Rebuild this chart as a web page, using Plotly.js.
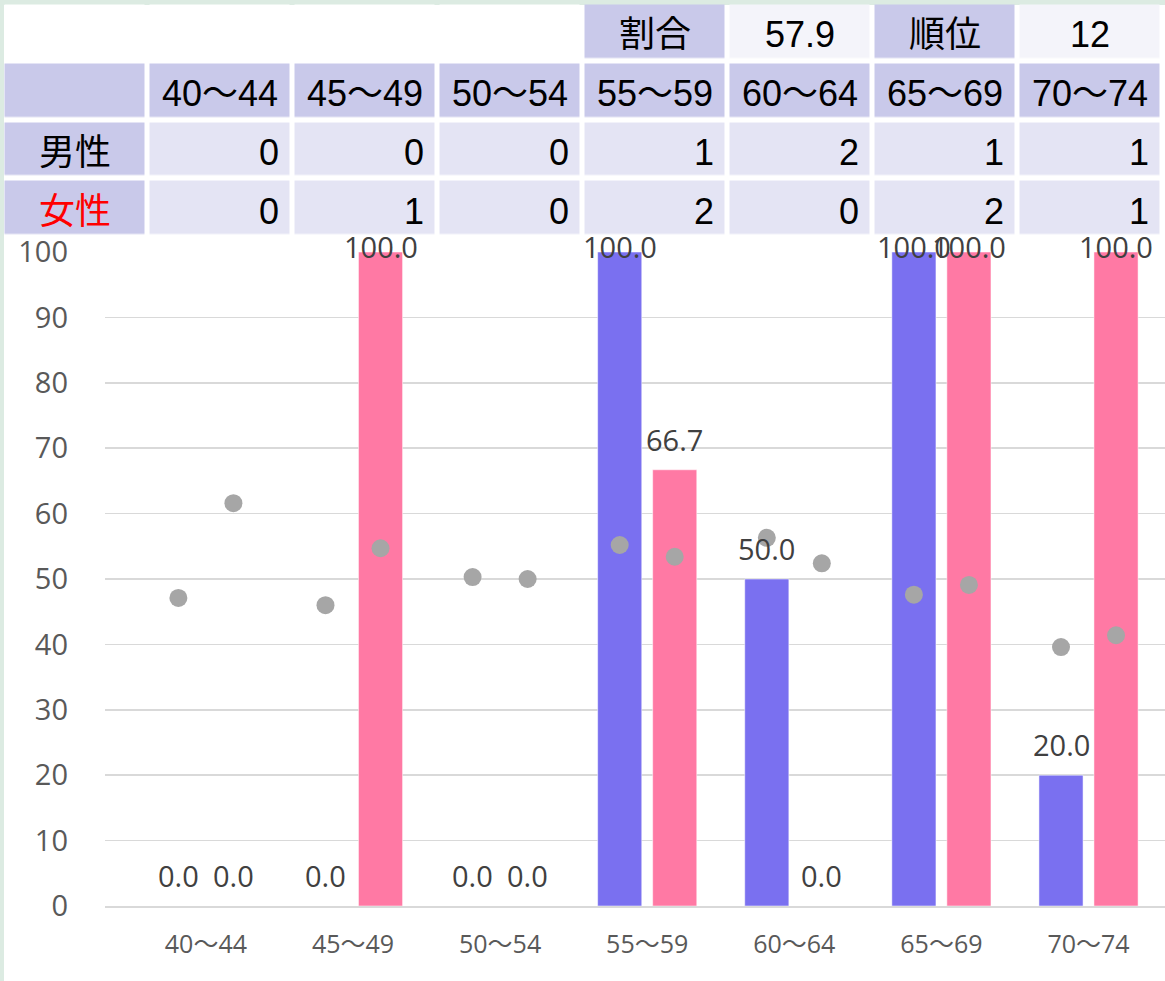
<!DOCTYPE html>
<html><head><meta charset="utf-8">
<script src="https://cdn.plot.ly/plotly-3.0.1.min.js"></script>
<style>html,body{margin:0;padding:0;background:#fff;overflow:hidden}#chart{width:1165px;height:981px;}</style>
</head><body><div id="chart"></div>
<script>
// ---- data ----
const categories = ['40〜44','45〜49','50〜54','55〜59','60〜64','65〜69','70〜74'];
const maleRate   = [0, 0, 0, 100, 50, 100, 20];
const femaleRate = [0, 100, 0, 66.7, 0, 100, 100];
const maleRef    = [47.1, 46.0, 50.3, 55.2, 56.3, 47.6, 39.6];
const femaleRef  = [61.6, 54.7, 50.0, 53.4, 52.4, 49.1, 41.4];
const maleCount   = [0, 0, 0, 1, 2, 1, 1];
const femaleCount = [0, 1, 0, 2, 0, 2, 1];
const rowLabels = ['男性', '女性'];
const summaryLabels = ['割合', '順位'];
const summaryValues = ['57.9', '12'];

// ---- style ----
const W = 1165, H = 981, B = 75, PH = H - B;
const LAV = '#c9c9ea', CELL = '#e4e4f4', LIGHT = '#f4f4fa', GREEN = '#dcebe2';
const MALE = '#7a70f0', FEMALE = '#ff79a4', DOT = '#a6a6a6';
const CHART_FONT = "'Open Sans', 'Noto Sans CJK JP', sans-serif";
const TABLE_FONT = "'Liberation Sans', Arial, 'Noto Sans CJK JP', sans-serif";
const TABLE_SIZE = 36;
const X_OFF = 0.187;
const PPU = (906 - 252) / 100;
const idx = categories.map((c, i) => i);
const nCols = categories.length + 1;
const colIdx = Array.from({length: nCols}, (_, i) => i);

// ---- table grid (cell kinds: 0 blank, 1 label, 2 value, 3 summary value) ----
const topRow = colIdx.map(c => c < nCols - 4 ? 0 : ((c - (nCols - 4)) % 2 === 0 ? 1 : 3));
const headRow = colIdx.map(() => 1);
const valRow = colIdx.map(c => c === 0 ? 1 : 2);
const gridZ = [topRow, headRow, valRow, valRow];

const traces = [
  {type: 'bar', x: idx, y: maleRate, marker: {color: MALE, line: {color: 'rgba(255,255,255,0.5)', width: 1}}, hoverinfo: 'skip'},
  {type: 'bar', x: idx, y: femaleRate, marker: {color: FEMALE, line: {color: 'rgba(255,255,255,0.5)', width: 1}}, hoverinfo: 'skip'},
  {type: 'scatter', mode: 'markers', x: idx.map(i => i - X_OFF), y: maleRef, marker: {color: DOT, size: 18}, cliponaxis: false, hoverinfo: 'skip'},
  {type: 'scatter', mode: 'markers', x: idx.map(i => i + X_OFF), y: femaleRef, marker: {color: DOT, size: 18}, cliponaxis: false, hoverinfo: 'skip'},
  {
    type: 'heatmap', xaxis: 'x2', yaxis: 'y2',
    x: colIdx, y: [0, 1, 2, 3], z: gridZ,
    zmin: 0, zmax: 3, showscale: false, xgap: 5, ygap: 5.5,
    colorscale: [[0, '#ffffff'], [1 / 3, LAV], [2 / 3, CELL], [1, LIGHT]],
    hoverinfo: 'skip'
  }
];

// ---- annotations ----
function labelAnn(x, v) {
  return {
    x: x, y: v, xref: 'x', yref: 'y', text: v.toFixed(1), showarrow: false,
    yanchor: 'bottom', yshift: Math.min(10, (100 - v) * PPU - 15), borderpad: 0,
    font: {family: CHART_FONT, size: 29, color: '#404040'}
  };
}
function cellAnn(col, row, text, align, color) {
  const a = {
    x: align === 'right' ? col + 0.5 : col, y: row, xref: 'x2', yref: 'y2',
    text: String(text), showarrow: false, xanchor: align, yanchor: 'middle', yshift: -3, borderpad: 0,
    font: {family: TABLE_FONT, size: TABLE_SIZE, color: color || '#000'}
  };
  if (align === 'right') a.xshift = -13;
  return a;
}
let annotations = idx.map(i => labelAnn(i - X_OFF, maleRate[i]))
  .concat(idx.map(i => labelAnn(i + X_OFF, femaleRate[i])));
annotations.push(cellAnn(nCols - 4, 0, summaryLabels[0], 'center'));
annotations.push(cellAnn(nCols - 3, 0, summaryValues[0], 'center'));
annotations.push(cellAnn(nCols - 2, 0, summaryLabels[1], 'center'));
annotations.push(cellAnn(nCols - 1, 0, summaryValues[1], 'center'));
idx.forEach(i => {
  annotations.push(cellAnn(i + 1, 1, categories[i], 'center'));
  annotations.push(cellAnn(i + 1, 2, maleCount[i], 'right'));
  annotations.push(cellAnn(i + 1, 3, femaleCount[i], 'right'));
});
annotations.push(cellAnn(0, 2, rowLabels[0], 'center', '#000000'));
annotations.push(cellAnn(0, 3, rowLabels[1], 'center', '#ff0000'));

const layout = {
  width: W, height: H,
  margin: {l: 0, r: 0, t: 0, b: B},
  paper_bgcolor: '#fff', plot_bgcolor: '#fff',
  showlegend: false,
  barmode: 'group', bargap: 0.252, bargroupgap: 0.198,
  xaxis: {
    domain: [105 / W, 1], range: [-0.686, 6.52],
    tickvals: idx, ticktext: categories,
    showgrid: false, zeroline: false, showline: true, linecolor: '#d9d9d9', linewidth: 1.5,
    ticks: '', ticklabelstandoff: 15,
    tickfont: {family: CHART_FONT, size: 25, color: '#595959'}, fixedrange: true
  },
  yaxis: {
    domain: [0, (906 - 252) / PH], range: [0, 100], dtick: 10,
    gridcolor: '#d9d9d9', gridwidth: 1.5, zeroline: false, showline: false,
    ticks: '', ticklabelstandoff: 36,
    tickfont: {family: CHART_FONT, size: 29, color: '#595959'}, fixedrange: true
  },
  xaxis2: {domain: [2.5 / W, 1162.5 / W], range: [-0.5, nCols - 0.5], visible: false, fixedrange: true},
  yaxis2: {domain: [(PH - 237.5) / PH, (PH - 2.5) / PH], range: [3.5, -0.5], visible: false, fixedrange: true},
  annotations: annotations,
  shapes: [
    {type: 'rect', xref: 'paper', yref: 'paper', x0: 0, x1: 4 / W, y0: -B / PH, y1: 1, fillcolor: GREEN, line: {width: 0}, layer: 'below'},
    {type: 'rect', xref: 'paper', yref: 'paper', x0: 0, x1: 1, y0: (PH - 5) / PH, y1: 1, fillcolor: GREEN, line: {width: 0}, layer: 'below'}
  ]
};

Plotly.newPlot('chart', traces, layout, {displayModeBar: false, staticPlot: true});
</script></body></html>
